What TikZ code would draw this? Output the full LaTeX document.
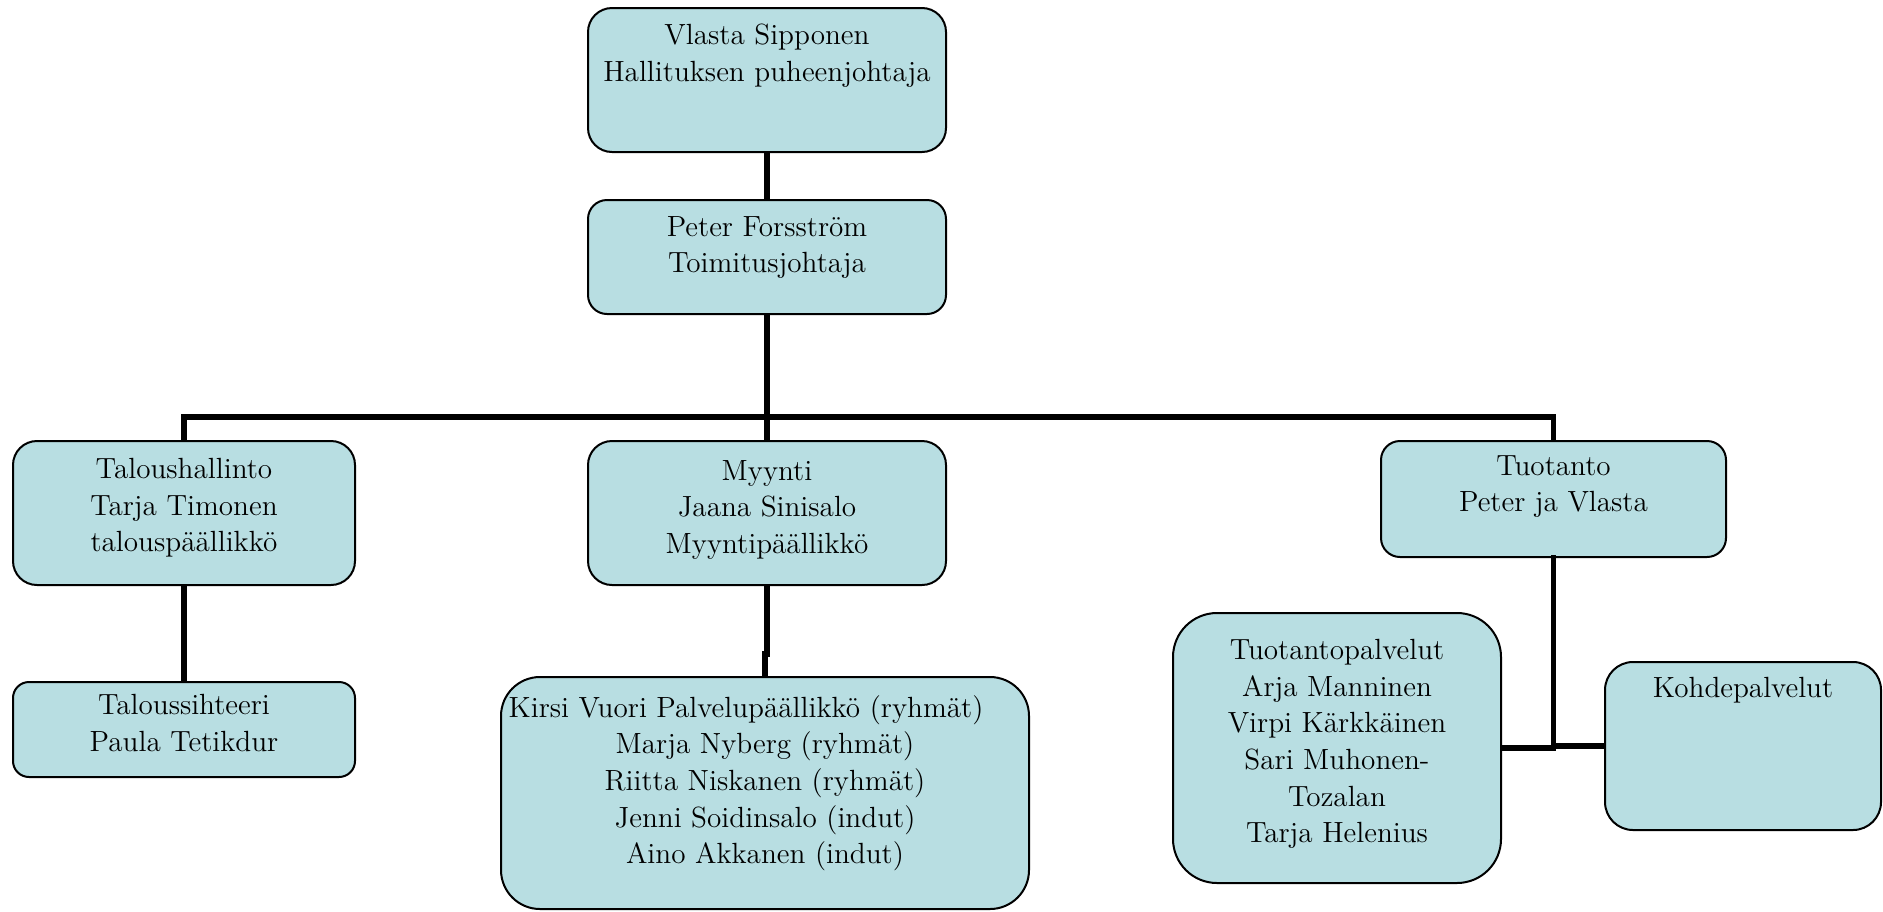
\documentclass[tikz,border=0pt]{standalone}
\usepackage{fontspec}
\definecolor{boxfill}{RGB}{184,222,226}
\tikzset{
  orgbox/.style={draw=black, line width=1pt, fill=boxfill, inner sep=0pt, rounded corners=#1},
  txt/.style={anchor=north, align=center, inner sep=0pt, font={\fontsize{14.6pt}{18.3pt}\selectfont}},
  conn/.style={line width=2.75pt, draw=black}
}
\begin{document}
\begin{tikzpicture}[x=0.5pt,y=-0.5pt]
\useasboundingbox (0,0) rectangle (1883,911);
% boxes
\node[orgbox=12pt, minimum width=179pt, minimum height=72pt] (vla) at (767,80) {};
\node[orgbox=9.5pt, minimum width=179pt, minimum height=57pt] (ceo) at (767,257) {};
\node[orgbox=12pt, minimum width=171pt, minimum height=72pt] (tal) at (184,513) {};
\node[orgbox=12pt, minimum width=179pt, minimum height=72pt] (myy) at (767,513) {};
\node[orgbox=9.5pt, minimum width=172.5pt, minimum height=58pt] (tuo) at (1553.5,499) {};
\node[orgbox=8pt, minimum width=171pt, minimum height=47.5pt] (tsi) at (184,729.5) {};
\node[orgbox=19.5pt, minimum width=264pt, minimum height=116pt] (kir) at (765,793) {};
\node[orgbox=22pt, minimum width=164pt, minimum height=135pt] (tpp) at (1337,748) {};
\node[orgbox=14pt, minimum width=138pt, minimum height=84pt] (koh) at (1743,746) {};
% texts
\node[txt, yshift=-8.5pt] (tvla) at (vla.north) {Vlasta Sipponen\\Hallituksen puheenjohtaja};
\node[txt, yshift=-8.5pt] (tceo) at (ceo.north) {Peter Forsström\\Toimitusjohtaja};
\node[txt, yshift=-9pt] (ttal) at (tal.north) {Taloushallinto\\Tarja Timonen\\talouspäällikkö};
\node[txt, yshift=-10pt] (tmyy) at (myy.north) {Myynti\\Jaana Sinisalo\\Myyntipäällikkö};
\node[txt, yshift=-7.5pt] (ttuo) at (tuo.north) {Tuotanto\\Peter ja Vlasta};
\node[txt, yshift=-6.5pt] (ttsi) at (tsi.north) {Taloussihteeri\\Paula Tetikdur};
\node[txt, yshift=-9.5pt] (tkir) at (kir.north) {Kirsi Vuori Palvelupäällikkö (ryhmät)\hspace*{19pt}\\Marja Nyberg (ryhmät)\\Riitta Niskanen (ryhmät)\\Jenni Soidinsalo (indut)\\Aino Akkanen (indut)};
\node[txt, yshift=-13.5pt] (ttpp) at (tpp.north) {Tuotantopalvelut\\Arja Manninen\\Virpi Kärkkäinen\\Sari Muhonen-\\Tozalan\\Tarja Helenius};
\node[txt, yshift=-8pt] (tkoh) at (koh.north) {Kohdepalvelut};
% connectors
\coordinate (bus) at (767,417);
\draw[conn] (vla.south) -- (ceo.north);
\draw[conn] (ceo.south) -- (bus);
\draw[conn] (tal.north) |- (bus) -| (tuo.north);
\draw[conn] (bus) -- (myy.north);
\draw[conn] (tal.south) -- (tsi.north);
\draw[conn] (myy.south) -- ++(0,68) -| (kir.north);
\draw[conn, line cap=rect] (tuo.south) -- (tuo.south |- tpp.east);
\draw[conn] (tpp.east) -- (tpp.east -| tuo.south);
\draw[conn] (koh.west) -- (koh.west -| tuo.south);
\end{tikzpicture}
\end{document}
